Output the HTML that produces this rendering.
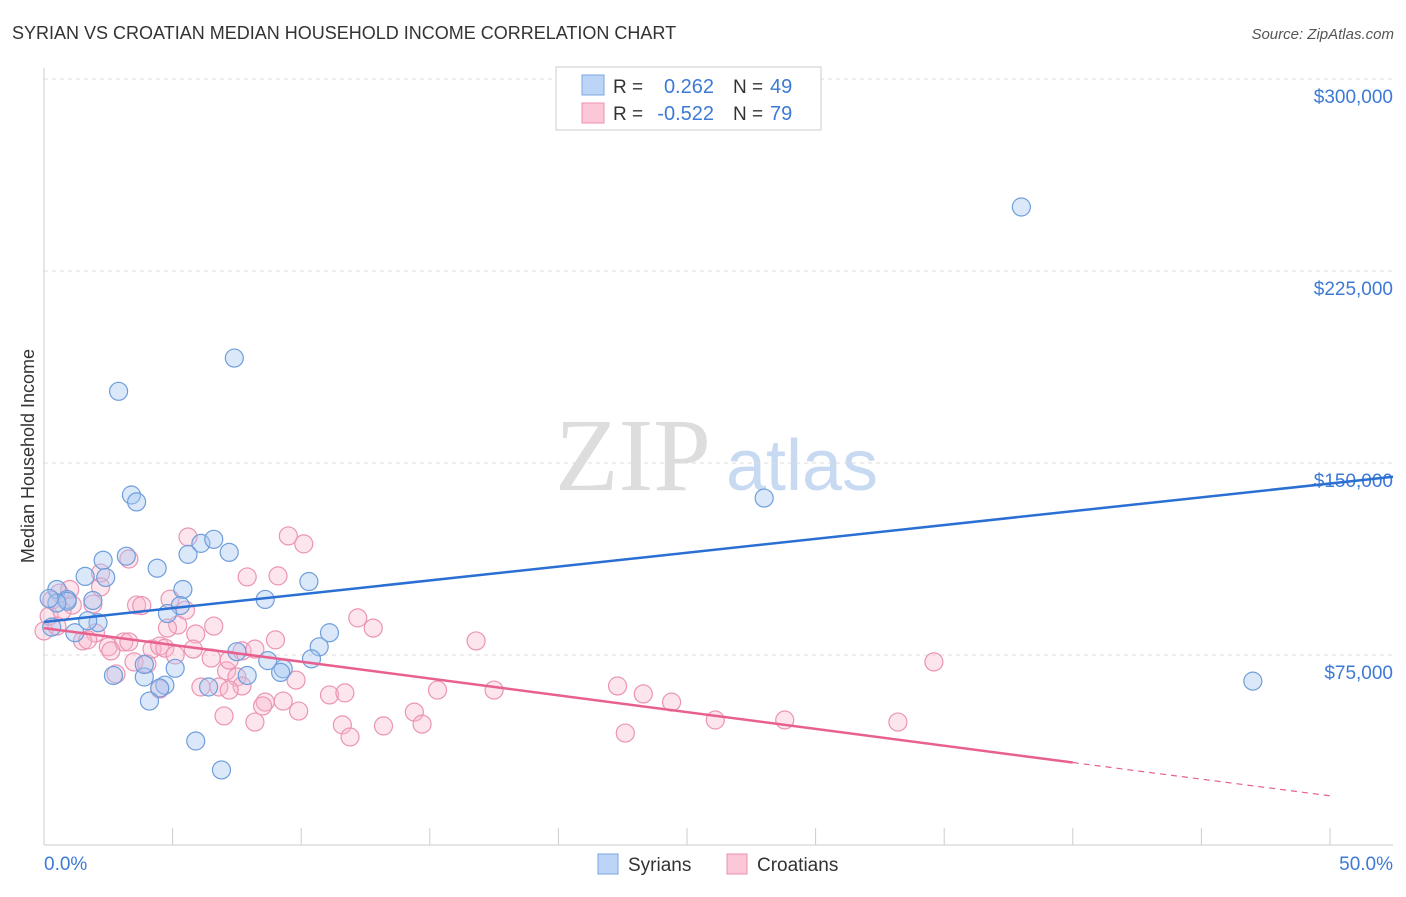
<!DOCTYPE html>
<html><head><meta charset="utf-8"><style>
body{margin:0;background:#fff;font-family:"Liberation Sans",sans-serif;}
svg text{font-family:"Liberation Sans",sans-serif;}
</style></head><body>
<svg id="c" width="1406" height="892">
<text x="12" y="39" font-size="18" fill="#333">SYRIAN VS CROATIAN MEDIAN HOUSEHOLD INCOME CORRELATION CHART</text>
<text x="1394" y="39" font-size="15" fill="#555" text-anchor="end" font-style="italic">Source: ZipAtlas.com</text>
<text x="34" y="456" font-size="18" fill="#333" text-anchor="middle" transform="rotate(-90 34 456)">Median Household Income</text>
<g><text x="633" y="490" font-size="104" fill="#ddd" text-anchor="middle" style="font-family:'Liberation Serif'">ZIP</text><text x="802" y="490" font-size="72" fill="#c8daf2" text-anchor="middle">atlas</text></g>
<g id="grid"></g><g id="pts"></g><g id="lines"></g>
<g>
<rect x="556" y="67" width="265" height="63" fill="#fff" stroke="#ccc"/>
<rect x="582" y="75" width="22" height="20" fill="#bcd5f7" stroke="#7aa6e0"/>
<rect x="582" y="103" width="22" height="20" fill="#fcc8d8" stroke="#eb90b0"/>
<text x="613" y="93" font-size="19" fill="#333">R = </text><text x="714" y="93" font-size="20" fill="#3d7ad6" text-anchor="end">0.262</text>
<text x="733" y="93" font-size="19" fill="#333">N = </text><text x="770" y="93" font-size="20" fill="#3d7ad6">49</text>
<text x="613" y="120" font-size="19" fill="#333">R = </text><text x="714" y="120" font-size="20" fill="#3d7ad6" text-anchor="end">-0.522</text>
<text x="733" y="120" font-size="19" fill="#333">N = </text><text x="770" y="120" font-size="20" fill="#3d7ad6">79</text>
</g>
<g>
<rect x="598" y="854" width="20" height="20" fill="#bcd5f7" stroke="#7aa6e0"/><text x="628" y="871" font-size="19" fill="#333">Syrians</text>
<rect x="727" y="854" width="20" height="20" fill="#fcc8d8" stroke="#eb90b0"/><text x="757" y="871" font-size="19" fill="#333">Croatians</text>
</g>
</svg>
<script>
const yTicks=[75000,150000,225000,300000];
const yTickLabels=["$75,000","$150,000","$225,000","$300,000"];
const xTickLabels=["0.0%","50.0%"];
const syrX=[38.0,7.4,2.9,3.4,3.6,28.0,47.0,2.3,3.2,4.4,5.6,6.1,6.6,7.2,1.6,2.4,0.5,0.9,1.9,5.4,10.3,8.6,5.3,4.8,2.1,1.2,1.7,0.3,11.1,10.7,7.5,8.7,9.3,10.4,3.9,3.9,5.1,2.7,7.9,9.2,4.7,4.5,6.4,4.1,5.9,6.9,0.9,0.5,0.2];
const syrY=[250000,191000,178000,137500,134800,136300,64800,112000,113600,108900,114300,118600,120200,115100,105700,105300,100600,96700,96300,100600,103700,96700,94300,91200,87600,83700,88400,85900,83700,78200,76300,72800,69600,73500,66400,71300,69800,67000,67000,68200,63200,62100,62500,57000,41400,30100,96000,95300,97100];
const croX=[5.6,9.5,10.1,3.3,2.2,2.2,0.6,0.3,1.1,1.9,3.6,4.9,5.5,7.9,9.1,12.2,12.8,16.8,34.6,5.2,6.6,5.9,9.0,2.0,1.5,2.5,3.1,4.2,4.5,4.7,5.8,6.5,7.7,8.2,3.5,4.0,7.1,7.5,7.7,9.8,2.8,6.1,6.8,7.2,4.5,11.1,11.7,15.3,17.5,22.3,23.3,24.4,8.6,9.3,9.9,7.0,8.2,11.6,11.9,13.2,14.4,14.7,22.6,26.1,28.8,33.2,0.0,0.2,0.7,1.0,2.6,3.3,3.8,4.8,5.1,7.2,8.5,0.5,1.7];
const croY=[121100,121500,118400,112500,107000,101600,99200,96400,94500,94900,94500,96800,92500,105500,105900,89500,85500,80500,72300,86700,86300,83200,80900,83600,80500,78200,80100,77300,78500,77700,77300,73800,76600,77300,72300,71500,68800,66400,62900,65200,67600,62500,62500,61300,61700,59400,60200,61300,61300,62900,59800,56600,56600,57000,53100,51200,48800,47700,43000,47300,52700,48000,44500,49600,49600,48800,84400,90200,92200,100600,76600,80100,94300,85500,75000,73000,55100,86300,80900];
const reg={syr:[0,87900,50,142000],cro:[0,85500,40,33000,50,20000]};
const X0=44,X1=1330,YB=847,PX=(X1-X0)/50;
const xs=v=>X0+v*PX, ys=v=>YB-v*192/75000;
const NS="http://www.w3.org/2000/svg";
function mk(t,a,p){const e=document.createElementNS(NS,t);for(const k in a)e.setAttribute(k,a[k]);p.appendChild(e);return e;}
const g=document.getElementById('grid');
yTicks.forEach((t,i)=>{
 const l=mk('line',{x1:44,x2:1393,y1:ys(t),y2:ys(t),stroke:'#ddd','stroke-dasharray':'4,4'},g);
 
 
 const tx=mk('text',{x:1393,y:ys(t)+24,'font-size':19,fill:'#3d7ad6','text-anchor':'end'},g);tx.textContent=yTickLabels[i];
 
 
});
mk('line',{x1:44,x2:44,y1:68,y2:845,stroke:'#ccc'},g);
mk('line',{x1:44,x2:1393,y1:845,y2:845,stroke:'#ccc'},g);
for(let i=0;i<=10;i++){mk('line',{x1:xs(i*5),x2:xs(i*5),y1:828,y2:845,stroke:'#ccc'},g);}
const xl=[[44,'start'],[1393,'end']];
xTickLabels.forEach((s,i)=>{const t=mk('text',{x:xl[i][0],y:870,'font-size':19,fill:'#3d7ad6','text-anchor':xl[i][1]},g);t.textContent=s;
 
 });
const P=document.getElementById('pts');
croX.forEach((v,i)=>{const c=mk('circle',{cx:xs(v),cy:ys(croY[i]),r:9,fill:'rgba(248,180,204,0.35)',stroke:'#eb94b4','stroke-width':1.2},P);
 
 });
syrX.forEach((v,i)=>{const c=mk('circle',{cx:xs(v),cy:ys(syrY[i]),r:9,fill:'rgba(165,198,242,0.4)',stroke:'#6f9edb','stroke-width':1.2},P);
 
 });
const L=document.getElementById('lines');
const s=reg.syr;
const l1=mk('line',{x1:xs(s[0]),y1:ys(s[1]),x2:1393,y2:ys(s[1]+(s[3]-s[1])*((1393-X0)/PX-s[0])/(s[2]-s[0])),stroke:'#2a6fd4','stroke-width':2.5},L);


const c=reg.cro;
const l2=mk('line',{x1:xs(c[0]),y1:ys(c[1]),x2:xs(c[2]),y2:ys(c[3]),stroke:'#e8608e','stroke-width':2.5},L);


const l3=mk('line',{x1:xs(c[2]),y1:ys(c[3]),x2:xs(c[4]),y2:ys(c[5]),stroke:'#e8608e','stroke-width':1.2,'stroke-dasharray':'6,5'},L);


</script>
</body></html>
